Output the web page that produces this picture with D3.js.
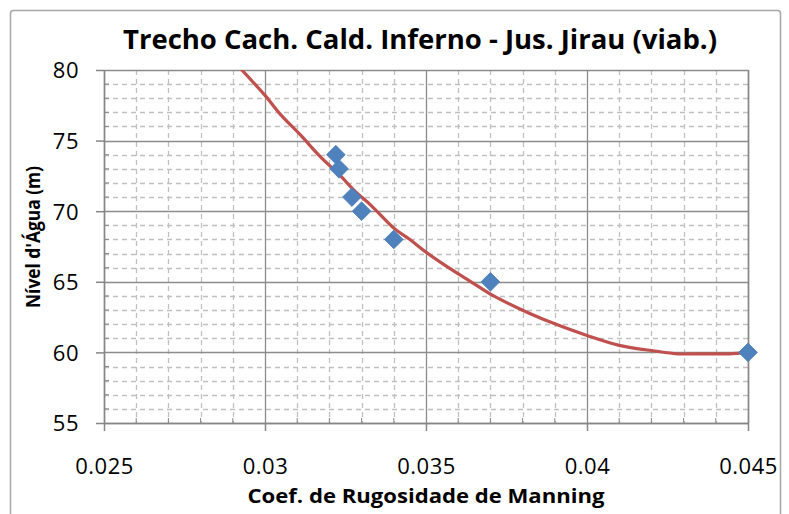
<!DOCTYPE html>
<html><head><meta charset="utf-8">
<script src="https://cdn.jsdelivr.net/npm/d3@7"></script>
<style>body{margin:0;background:#fff}svg{display:block}</style>
</head><body>
<script>
const titleText = "Trecho Cach. Cald. Inferno - Jus. Jirau (viab.)";
const xTitle = "Coef. de Rugosidade  de Manning";
const yTitle = "Nível d'Água  (m)";
const xTicks = [0.025, 0.03, 0.035, 0.04, 0.045];
const xTickLabels = ["0.025", "0.03", "0.035", "0.04", "0.045"];
const yTicks = [55, 60, 65, 70, 75, 80];
// observed points
const obsX = [0.0322, 0.0323, 0.0327, 0.0330, 0.0340, 0.0370, 0.0450];
const obsY = [74, 73, 71, 70, 68, 65, 60];
// fitted curve
const fitX = [0.0292, 0.0300, 0.0305, 0.0311, 0.0317, 0.0323, 0.0328, 0.0333, 0.0340, 0.0345, 0.0350, 0.0357, 0.0364, 0.0371, 0.0378, 0.0388, 0.0400, 0.0410, 0.0421, 0.0428, 0.0436, 0.0444, 0.0450];
const fitY = [80.2, 78.2, 76.8, 75.4, 73.9, 72.6, 71.4, 70.4, 68.8, 68.0, 67.1, 66.0, 65.0, 64.0, 63.2, 62.2, 61.2, 60.5, 60.1, 59.9, 59.9, 59.9, 60.0];

const W = 789, H = 514;
const svg = d3.select("body").append("svg").attr("width", W).attr("height", H);
const L = 104, R = 748, T = 70, B = 423;
const x = d3.scaleLinear().domain([0.025, 0.045]).range([L, R]);
const y = d3.scaleLinear().domain([55, 80]).range([B, T]);

// outer border
svg.append("rect").attr("x", 10.5).attr("y", 10.5).attr("width", 770).attr("height", 520)
  .attr("rx", 3).attr("fill", "#fff").attr("stroke", "#a6a6a6").attr("stroke-width", 1.5);

// minor grid
const xMinor = d3.range(0.026, 0.045, 0.001).filter(v => Math.abs(v / 0.005 - Math.round(v / 0.005)) > 1e-6);
const yMinor = d3.range(56, 80, 1).filter(v => v % 5 !== 0);
const g = svg.append("g");
g.selectAll(".vxm").data(xMinor).join("line")
  .attr("x1", d => Math.round(x(d)) + 0.5).attr("x2", d => Math.round(x(d)) + 0.5)
  .attr("y1", T).attr("y2", B).attr("stroke", "#c0c0c0").attr("stroke-width", 1.3).attr("stroke-dasharray", "5,4");
g.selectAll(".hym").data(yMinor).join("line")
  .attr("y1", d => Math.round(y(d)) + 0.5).attr("y2", d => Math.round(y(d)) + 0.5)
  .attr("x1", L).attr("x2", R).attr("stroke", "#c0c0c0").attr("stroke-width", 1.3).attr("stroke-dasharray", "5,4");
// major grid
g.selectAll(".vx").data(xTicks).join("line")
  .attr("x1", d => Math.round(x(d)) + 0.5).attr("x2", d => Math.round(x(d)) + 0.5)
  .attr("y1", T).attr("y2", B).attr("stroke", "#8c8c8c").attr("stroke-width", 1.3);
g.selectAll(".hy").data(yTicks).join("line")
  .attr("y1", d => Math.round(y(d)) + 0.5).attr("y2", d => Math.round(y(d)) + 0.5)
  .attr("x1", L).attr("x2", R).attr("stroke", "#8c8c8c").attr("stroke-width", 1.3);

// axes
const xAxis = d3.axisBottom(x).tickValues(xTicks).tickFormat((d, i) => xTickLabels[i]).tickSize(8).tickSizeOuter(0);
const yAxis = d3.axisLeft(y).tickValues(yTicks).tickSize(8).tickSizeOuter(0);
const gx = svg.append("g").attr("transform", `translate(0,${B})`).call(xAxis);
const gy = svg.append("g").attr("transform", `translate(${L},0)`).call(yAxis);
[gx, gy].forEach(a => {
  a.select(".domain").attr("stroke", "#868686").attr("stroke-width", 1.5);
  a.selectAll(".tick line").attr("stroke", "#868686").attr("stroke-width", 1.5);
  a.selectAll("text").attr("font-family", "Open Sans").attr("font-size", 22).attr("fill", "#000")
    .attr("letter-spacing", "0.5px");
});
gx.selectAll("text").attr("dy", null).attr("y", 51);
gy.selectAll("text").attr("x", -25).attr("dy", "0.36em");
// minor ticks inside
svg.append("g").selectAll("line").data(xMinor).join("line")
  .attr("x1", d => x(d)).attr("x2", d => x(d)).attr("y1", B).attr("y2", B - 5).attr("stroke", "#868686");
svg.append("g").selectAll("line").data(yMinor).join("line")
  .attr("y1", d => y(d)).attr("y2", d => y(d)).attr("x1", L).attr("x2", L + 5).attr("stroke", "#868686");
// right border of plot
svg.append("line").attr("x1", R + 0.5).attr("x2", R + 0.5).attr("y1", T).attr("y2", B)
  .attr("stroke", "#868686").attr("stroke-width", 1.5);

// clip
svg.append("clipPath").attr("id", "clip").append("rect").attr("x", L).attr("y", T).attr("width", R - L + 4).attr("height", B - T);

const fit = fitX.map((v, i) => [v, fitY[i]]);
const lineGen = d3.line().x(d => x(d[0])).y(d => y(d[1])).curve(d3.curveCatmullRom);
svg.append("path").datum(fit).attr("clip-path", "url(#clip)")
  .attr("d", lineGen)
  .attr("fill", "none").attr("stroke", "#c0504d").attr("stroke-width", 3.2).attr("stroke-linejoin", "round");

const obs = obsX.map((v, i) => [v, obsY[i]]);
svg.append("g").selectAll("path").data(obs).join("path")
  .attr("transform", d => `translate(${x(d[0])},${y(d[1])}) rotate(45)`)
  .attr("d", d3.symbol(d3.symbolSquare, 175))
  .attr("fill", "#4f81bd").attr("stroke", "#4a7ebb").attr("stroke-width", 0.8);

// titles
svg.append("text").attr("x", 420).attr("y", 49).attr("text-anchor", "middle")
  .attr("font-family", "Open Sans").attr("font-weight", "bold").attr("font-size", 26)
  .attr("textLength", 594).attr("lengthAdjust", "spacingAndGlyphs").text(titleText);
svg.append("text").attr("x", 426).attr("y", 503).attr("text-anchor", "middle")
  .attr("font-family", "Open Sans").attr("font-weight", "bold").attr("font-size", 20)
  .attr("textLength", 357).attr("lengthAdjust", "spacingAndGlyphs").text(xTitle);
svg.append("text").attr("transform", "translate(40,237) rotate(-90)").attr("text-anchor", "middle")
  .attr("font-family", "Open Sans").attr("font-weight", "bold").attr("font-size", 20)
  .attr("textLength", 142).attr("lengthAdjust", "spacingAndGlyphs").text(yTitle);
</script>
</body></html>
